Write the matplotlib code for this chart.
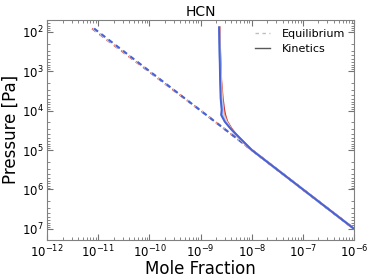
import numpy as np
import matplotlib.pyplot as plt
from matplotlib.lines import Line2D

# equilibrium profiles: log10 pressure [Pa] vs log10 mole fraction
eq_logp = [1.92, 2.5, 3.0, 3.5, 4.0, 4.5, 5.0, 5.5, 6.0, 6.5, 7.0, 7.28]
eq_logx = [
    [-11.12, -10.53, -10.02, -9.51, -9.00, -8.50, -8.00, -7.50, -7.00, -6.50, -6.00, -5.72],
    [-11.11, -10.52, -10.01, -9.51, -9.00, -8.50, -8.00, -7.50, -7.00, -6.50, -6.00, -5.72],
    [-11.10, -10.51, -10.01, -9.50, -9.00, -8.50, -8.00, -7.50, -7.00, -6.50, -6.00, -5.72],
    [-11.09, -10.50, -10.00, -9.50, -9.00, -8.50, -8.00, -7.50, -7.00, -6.50, -6.00, -5.72],
    [-11.08, -10.50, -10.00, -9.50, -9.00, -8.50, -8.00, -7.50, -7.00, -6.50, -6.00, -5.72],
]

# kinetics profiles, red -> blue
kin_logp = [1.89, 2.5, 3.22, 3.68, 3.98, 4.11, 4.28, 4.45, 4.66, 5.0, 5.5, 6.0, 6.5, 7.0, 7.28]
kin_logx = [
    [-8.63, -8.62, -8.60, -8.57, -8.54, -8.52, -8.48, -8.40, -8.28, -8.00, -7.50, -7.00, -6.50, -6.00, -5.72],
    [-8.63, -8.62, -8.60, -8.58, -8.56, -8.54, -8.49, -8.41, -8.28, -8.00, -7.50, -7.00, -6.50, -6.00, -5.72],
    [-8.64, -8.63, -8.61, -8.59, -8.57, -8.56, -8.50, -8.42, -8.27, -8.00, -7.50, -7.00, -6.50, -6.00, -5.72],
    [-8.64, -8.63, -8.61, -8.60, -8.58, -8.58, -8.52, -8.42, -8.27, -8.00, -7.50, -7.00, -6.50, -6.00, -5.72],
    [-8.64, -8.63, -8.62, -8.61, -8.59, -8.60, -8.53, -8.42, -8.26, -8.00, -7.50, -7.00, -6.50, -6.00, -5.72],
]

cols = plt.cm.coolwarm(np.linspace(0.95, 0.05, len(kin_logx)))

fig = plt.figure(figsize=(3.74, 2.8), dpi=100)
ax = fig.add_axes([0.126, 0.143, 0.821, 0.786])

for i in range(len(eq_logx)):
    ax.plot(10**np.array(eq_logx[i]), 10**np.array(eq_logp), ls='--', dashes=(2.5, 2.2),
            color=cols[i], lw=1.4)
for i in range(len(kin_logx)):
    ax.plot(10**np.array(kin_logx[i]), 10**np.array(kin_logp), '-', color=cols[i], lw=1.4)

ax.set_xscale('log')
ax.set_yscale('log')
ax.set_xlim(1e-12, 1e-6)
ax.set_ylim(10**7.28, 10**1.7)

for s in ax.spines.values():
    s.set_color('0.5')
ax.tick_params(which='both', direction='in', top=True, right=True, labelsize=8.5, color='0.45', pad=2.5)
ax.tick_params(which='major', length=4)
ax.tick_params(which='minor', length=2)

ax.set_title('HCN', fontsize=10, pad=3)
ax.set_xlabel('Mole Fraction', fontsize=12)
ax.set_ylabel('Pressure [Pa]', fontsize=12)
ax.xaxis.set_label_coords(0.5, -0.092)
ax.yaxis.set_label_coords(-0.09, 0.5)

handles = [Line2D([], [], ls='--', dashes=(2.5, 2.5), color='0.75', lw=1.0),
           Line2D([], [], ls='-', color='0.35', lw=1.0)]
ax.legend(handles, ['Equilibrium', 'Kinetics'], loc='upper right', frameon=False,
          fontsize=8, handlelength=1.3, handletextpad=1.1, borderaxespad=0.4,
          labelspacing=0.45)

fig.savefig('out.png', dpi=100)
